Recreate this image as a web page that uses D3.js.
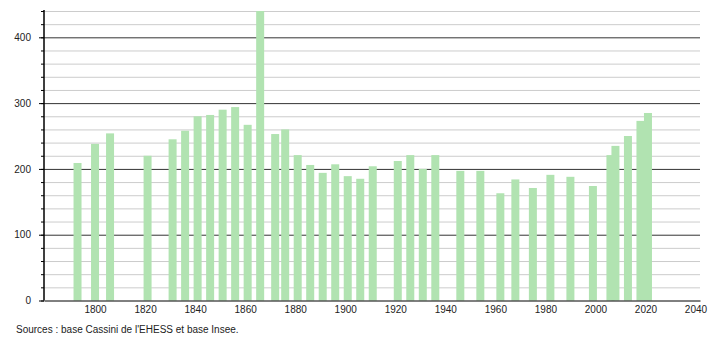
<!DOCTYPE html>
<html>
<head>
<meta charset="utf-8">
<script src="https://cdn.jsdelivr.net/npm/d3@7"></script>
<style>
body { margin: 0; background: #fff; }
svg text { font-family: "Liberation Sans", Arial, sans-serif; font-size: 10px; fill: #222; }
</style>
</head>
<body>
<svg width="710" height="340"></svg>
<script>
// Dados
var years = [1793,1800,1806,1821,1831,1836,1841,1846,1851,1856,1861,1866,1872,1876,1881,1886,1891,1896,1901,1906,1911,1921,1926,1931,1936,1946,1954,1962,1968,1975,1982,1990,1999,2006,2008,2013,2018,2021];
var population = [209,238,254,220,245,258,280,282,290,294,267,445,253,260,221,206,194,207,189,185,204,212,221,200,221,197,197,163,184,171,191,188,174,221,235,250,273,285];
var xTicks = [1800,1820,1840,1860,1880,1900,1920,1940,1960,1980,2000,2020,2040];
var yMajor = [0,100,200,300,400];
var yMinor = d3.range(0, 441, 20);
var source = "Sources : base Cassini de l'EHESS et base Insee.";

var plotLeft = 44, plotRight = 700, plotTop = 11, plotBottom = 300.5;

// Escalas
var xScale = d3.scaleLinear().domain([1779.6, 2041.8]).range([plotLeft, plotRight]);
var yScale = d3.scaleLinear().domain([0, 440]).range([plotBottom, plotTop]).clamp(true);

var svg = d3.select('svg');

// grille
var minorGrid = svg.append('g')
    .attr('transform', 'translate(' + plotLeft + ',0)')
    .call(d3.axisLeft(yScale).tickValues(yMinor.filter(v => yMajor.indexOf(v) < 0 && v > 0)).tickSize(-(plotRight - plotLeft)).tickFormat(''));
minorGrid.select('.domain').remove();
minorGrid.selectAll('line').attr('stroke', '#cccccc');

var majorGrid = svg.append('g')
    .attr('transform', 'translate(' + plotLeft + ',0)')
    .call(d3.axisLeft(yScale).tickValues(yMajor.filter(v => v > 0)).tickSize(-(plotRight - plotLeft)).tickFormat(''));
majorGrid.select('.domain').remove();
majorGrid.selectAll('line').attr('stroke', '#333');

// barres
var data = years.map((y, i) => ({year: y, pop: population[i]}));
svg.append('g')
    .selectAll('rect')
    .data(data)
    .enter()
    .append('rect')
    .attr('x', d => xScale(d.year) - 4)
    .attr('width', 8)
    .attr('y', d => yScale(d.pop))
    .attr('height', d => yScale(0) - yScale(d.pop))
    .attr('fill', '#b1e3b1');

// axe Y
var yAxisGroup = svg.append('g').attr('transform', 'translate(' + plotLeft + ',0)');
yAxisGroup.call(d3.axisLeft(yScale).tickValues(yMinor).tickSize(3).tickFormat(''));
yAxisGroup.append('g').call(d3.axisLeft(yScale).tickValues(yMajor).tickSize(5).tickPadding(8));
yAxisGroup.selectAll('.domain').attr('d', 'M0,' + (plotTop - 1) + 'V' + plotBottom).attr('stroke', '#000');
yAxisGroup.selectAll('line').attr('stroke', '#000');
yAxisGroup.selectAll('text').style('font-size', '10px').attr('fill', '#222');

// axe X
var xAxisGroup = svg.append('g').attr('transform', 'translate(0,' + plotBottom + ')');
xAxisGroup.call(d3.axisBottom(xScale).tickValues(xTicks).tickSize(0).tickPadding(5).tickFormat(d3.format('d')));
xAxisGroup.select('.domain').attr('stroke', '#000');
xAxisGroup.selectAll('text').style('font-size', '10px').attr('fill', '#222');

svg.append('text')
    .attr('x', 16)
    .attr('y', 333)
    .text(source);
</script>
</body>
</html>
